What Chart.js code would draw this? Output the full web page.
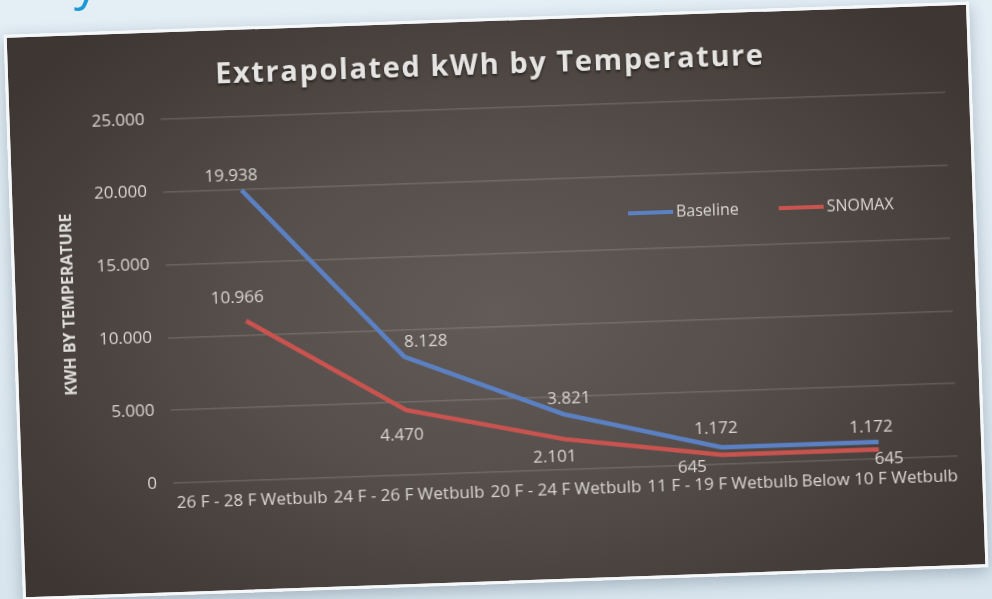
<!DOCTYPE html>
<html>
<head>
<meta charset="utf-8">
<title>Extrapolated kWh by Temperature</title>
<script src="https://cdn.jsdelivr.net/npm/chart.js@4.4.1/dist/chart.umd.min.js"></script>
<style>
  html, body {
    margin: 0;
    padding: 0;
    width: 992px;
    height: 599px;
    overflow: hidden;
  }
  body {
    position: relative;
    background: linear-gradient(180deg, #e3eef5 0%, #dfeaf2 55%, #d8e5ee 100%);
    font-family: 'Open Sans', sans-serif;
  }
  #heading {
    position: absolute;
    left: 74px;
    top: -54px;
    font-size: 50px;
    color: #1b9ad6;
  }
  #panel {
    position: absolute;
    left: 13px;
    top: 18px;
    width: 960px;
    height: 560px;
    border: 3px solid #f5f7f8;
    transform: rotate(-1.97deg);
    background: radial-gradient(ellipse 62% 70% at 50% 52%, #625b57 0%, #554e4a 45%, #463e3a 80%, #3e3633 100%);
    box-shadow: 0 5px 16px rgba(40, 60, 80, 0.3);
  }
  #chart {
    display: block;
  }
</style>
</head>
<body>
<div id="heading">y</div>
<div id="panel">
  <canvas id="chart" width="960" height="560"></canvas>
</div>
<script>
// Chart data
const categories = [
  '26 F - 28 F Wetbulb',
  '24 F - 26 F Wetbulb',
  '20 F - 24 F Wetbulb',
  '11 F - 19 F Wetbulb',
  'Below 10 F Wetbulb',
];
const baseline = [19938, 8128, 3821, 1172, 1172];
const snomax = [10966, 4470, 2101, 645, 645];
const yTicks = [0, 5000, 10000, 15000, 20000, 25000];

const textColor = '#d9d6d4';
const fmt = (v) => v.toLocaleString('de-DE');

// Value labels next to each point, nudged per point
const pointLabels = {
  id: 'pointLabels',
  afterDatasetsDraw(chart, args, opts) {
    const ctx = chart.ctx;
    ctx.save();
    ctx.font = '17px "Open Sans"';
    ctx.fillStyle = textColor;
    ctx.textAlign = 'center';
    ctx.textBaseline = 'middle';
    chart.data.datasets.forEach((ds, i) => {
      const offsets = opts.offsets[i];
      chart.getDatasetMeta(i).data.forEach((pt, j) => {
        const [dx, dy] = offsets[j];
        ctx.fillText(fmt(ds.data[j]), pt.x + dx, pt.y + dy);
      });
    });
    ctx.restore();
  },
};

// Legend drawn inside the plot, upper right
const innerLegend = {
  id: 'innerLegend',
  afterDraw(chart, args, opts) {
    const ctx = chart.ctx;
    ctx.save();
    ctx.font = '16px "Open Sans"';
    ctx.textBaseline = 'middle';
    ctx.fillStyle = textColor;
    let x = opts.x;
    chart.data.datasets.forEach((ds) => {
      ctx.strokeStyle = ds.borderColor;
      ctx.lineWidth = 4;
      ctx.beginPath();
      ctx.moveTo(x, opts.y);
      ctx.lineTo(x + 45, opts.y);
      ctx.stroke();
      ctx.fillText(ds.label, x + 48, opts.y);
      x += 48 + ctx.measureText(ds.label).width + 40;
    });
    ctx.restore();
  },
};

// Spaced-out, shadowed title text, centred on the whole panel
const titleStyle = {
  id: 'titleStyle',
  beforeDraw(chart) {
    const tb = chart.titleBlock;
    if (!tb || tb._styled) return;
    const draw = tb.draw.bind(tb);
    tb.draw = function () {
      const ctx = this.ctx;
      ctx.save();
      ctx.translate(14, 0);
      ctx.letterSpacing = '1.6px';
      ctx.shadowColor = 'rgba(0, 0, 0, 0.55)';
      ctx.shadowBlur = 3;
      ctx.shadowOffsetY = 2;
      draw();
      ctx.restore();
    };
    tb._styled = true;
  },
};

const ctx = document.getElementById('chart').getContext('2d');

const chart = new Chart(ctx, {
  type: 'line',
  data: {
    labels: categories,
    datasets: [
      {
        label: 'Baseline',
        data: baseline,
        borderColor: '#5b81c4',
        borderWidth: 4.5,
        pointRadius: 0,
        tension: 0,
      },
      {
        label: 'SNOMAX',
        data: snomax,
        borderColor: '#c9534f',
        borderWidth: 4.5,
        pointRadius: 0,
        tension: 0,
      },
    ],
  },
  options: {
    responsive: false,
    animation: false,
    layout: {
      padding: { left: 0, right: 24, top: 0, bottom: 0 },
    },
    plugins: {
      legend: { display: false },
      tooltip: { enabled: false },
      title: {
        display: true,
        text: 'Extrapolated kWh by Temperature',
        color: '#e6e4e2',
        font: { family: 'Open Sans', size: 29, weight: 'bold', lineHeight: 1.2 },
        padding: { top: 27, bottom: 25 },
      },
      pointLabels: {
        offsets: [
          [[-10, -14], [22, -14], [6, -15], [-5, -19], [-7, -15]],
          [[-8, -23], [-5, 25], [-10, 18], [-30, 12], [10, 10]],
        ],
      },
      innerLegend: { x: 615, y: 197 },
    },
    scales: {
      x: {
        offset: true,
        grid: { display: false, drawTicks: false, offset: true },
        border: { display: false },
        ticks: {
          color: textColor,
          font: { family: 'Open Sans', size: 17 },
          padding: 10,
          maxRotation: 0,
          autoSkip: false,
        },
        afterFit: (scale) => { scale.height = 109; },
      },
      y: {
        min: yTicks[0],
        max: yTicks[yTicks.length - 1],
        afterBuildTicks: (scale) => {
          scale.ticks = yTicks.map((v) => ({ value: v }));
        },
        grid: {
          color: 'rgba(255, 255, 255, 0.14)',
          lineWidth: 1.5,
          drawTicks: false,
        },
        border: { display: false },
        ticks: {
          color: textColor,
          font: { family: 'Open Sans', size: 17 },
          padding: 16,
          callback: (v) => fmt(v),
        },
        title: {
          display: true,
          text: 'KWH BY TEMPERATURE',
          color: '#e0dedc',
          font: { family: 'Open Sans', size: 16, weight: 'bold' },
          padding: { top: 44, bottom: 0 },
        },
        afterFit: (scale) => { scale.width = 151; },
      },
    },
  },
  plugins: [pointLabels, innerLegend, titleStyle],
});
</script>
</body>
</html>
